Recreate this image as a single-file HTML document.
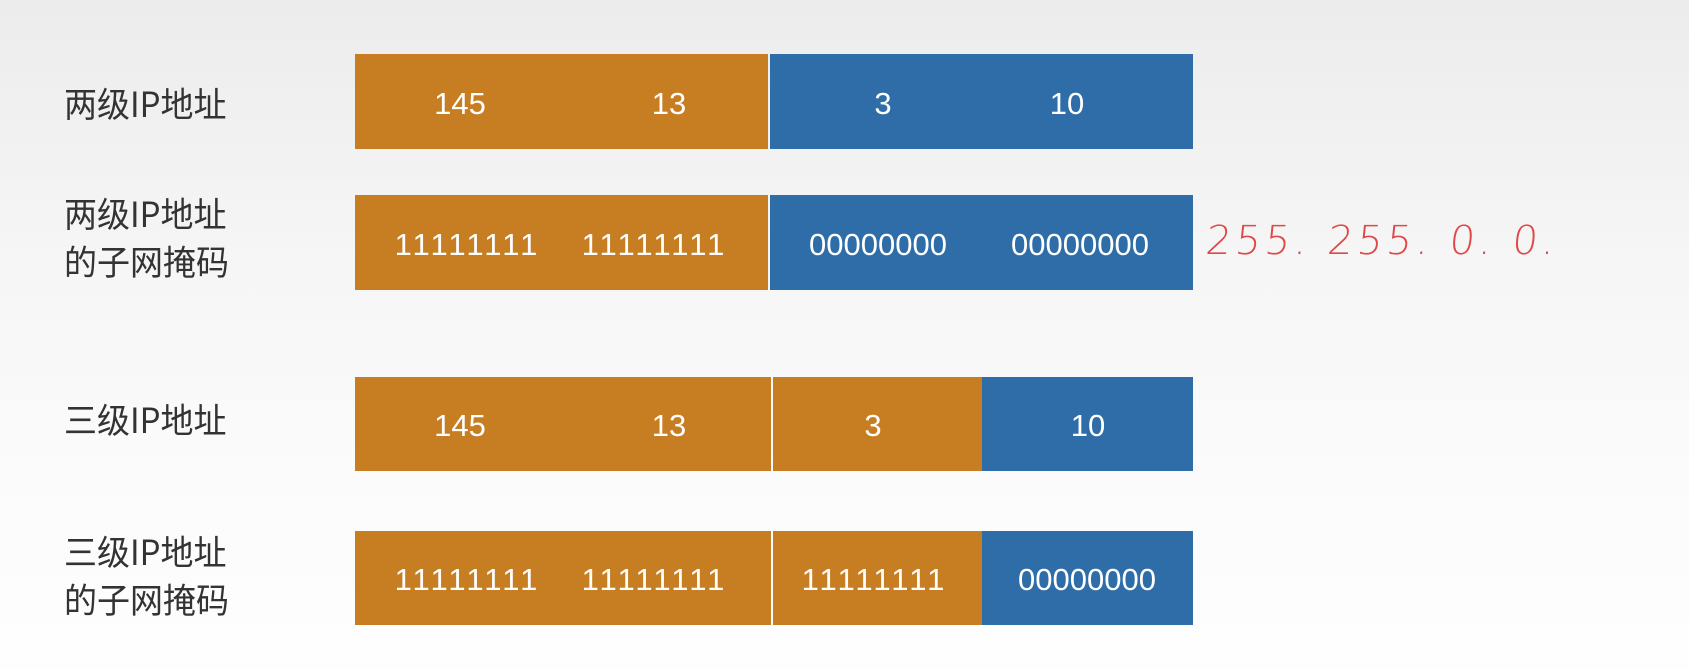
<!DOCTYPE html>
<html><head><meta charset="utf-8">
<style>
body{margin:0;width:1689px;height:669px;overflow:hidden;background:linear-gradient(#ececec 0%,#f6f6f6 40%,#fbfbfb 70%,#fefefe 100%);font-family:"Liberation Sans","Noto Sans CJK SC",sans-serif;position:relative}
.lbl{position:absolute;left:64px;font-size:33px;color:#333;line-height:46px;font-family:"Noto Sans CJK SC","Liberation Sans",sans-serif;transform:scaleY(1.05);transform-origin:left top}
.bar{position:absolute;left:355px;width:838px}
.seg{position:absolute;top:0;bottom:0}
.o{background:#C77E22}.b{background:#2E6DA8}
.t{position:absolute;color:#fff;font-size:31px;transform:translate(-50%,-45%);white-space:nowrap;font-family:"Liberation Sans",sans-serif}
.m{letter-spacing:3px;text-indent:3px}
.hw{position:absolute;left:1206px;top:218px;color:#e04848;font-size:40px;font-family:"DejaVu Sans",sans-serif;font-weight:200;letter-spacing:4px;transform:skewX(-6deg)}
</style></head><body>
<div class="lbl" style="top:78px">两级IP地址</div>
<div class="lbl" style="top:188px">两级IP地址<br>的子网掩码</div>
<div class="lbl" style="top:394px">三级IP地址</div>
<div class="lbl" style="top:526px">三级IP地址<br>的子网掩码</div>

<div class="bar" style="top:54px;height:95px">
 <div class="seg o" style="left:0;width:413px"></div><div class="seg b" style="left:415px;right:0"></div>
 <div class="t" style="left:105px;top:50%">145</div><div class="t" style="left:314px;top:50%">13</div>
 <div class="t" style="left:528px;top:50%">3</div><div class="t" style="left:712px;top:50%">10</div>
</div>
<div class="bar" style="top:195px;height:95px">
 <div class="seg o" style="left:0;width:413px"></div><div class="seg b" style="left:415px;right:0"></div>
 <div class="t m" style="left:111px;top:50%">11111111</div><div class="t m" style="left:298px;top:50%">11111111</div>
 <div class="t" style="left:523px;top:50%">00000000</div><div class="t" style="left:725px;top:50%">00000000</div>
</div>
<div class="hw">255. 255. 0. 0.</div>
<div class="bar" style="top:377px;height:94px">
 <div class="seg o" style="left:0;width:416px"></div><div class="seg o" style="left:418px;width:209px"></div><div class="seg b" style="left:627px;right:0"></div>
 <div class="t" style="left:105px;top:50%">145</div><div class="t" style="left:314px;top:50%">13</div>
 <div class="t" style="left:518px;top:50%">3</div><div class="t" style="left:733px;top:50%">10</div>
</div>
<div class="bar" style="top:531px;height:94px">
 <div class="seg o" style="left:0;width:416px"></div><div class="seg o" style="left:418px;width:209px"></div><div class="seg b" style="left:627px;right:0"></div>
 <div class="t m" style="left:111px;top:50%">11111111</div><div class="t m" style="left:298px;top:50%">11111111</div>
 <div class="t m" style="left:518px;top:50%">11111111</div><div class="t" style="left:732px;top:50%">00000000</div>
</div>
</body></html>
